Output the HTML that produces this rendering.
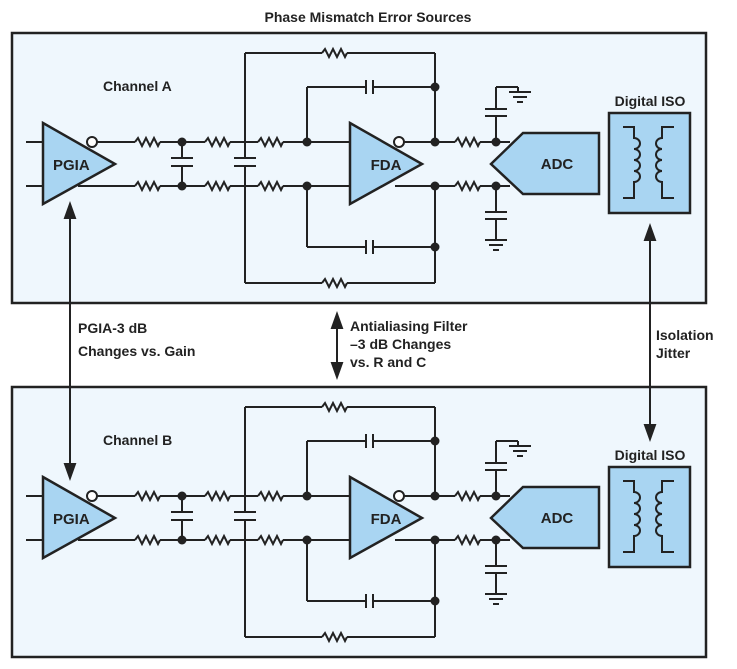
<!DOCTYPE html>
<html><head><meta charset="utf-8"><style>
html,body{margin:0;padding:0;background:#fff;}
svg{display:block;font-family:"Liberation Sans",sans-serif;font-weight:bold;}
</style></head><body>
<svg width="737" height="669" viewBox="0 0 737 669" xmlns="http://www.w3.org/2000/svg">
<defs>
<g id="res"><path d="M0,0 l3,-4 l4,8 l4,-8 l4,8 l4,-8 l4,8 l2,-4" fill="none" stroke="#222" stroke-width="2"/></g>
<g id="gnd" stroke="#222" stroke-width="2"><line x1="-11" y1="0" x2="11" y2="0"/><line x1="-7" y1="5" x2="7" y2="5"/><line x1="-3" y1="10" x2="3" y2="10"/></g>
<g id="ch" stroke="#222" stroke-width="2" fill="none">
<rect x="12" y="33" width="694" height="270" fill="#eff7fd" stroke="#222" stroke-width="2.5"/>
<line x1="26" y1="142" x2="43" y2="142"/><line x1="26" y1="186" x2="43" y2="186"/>
<line x1="97" y1="142" x2="135" y2="142"/><line x1="78" y1="186" x2="135" y2="186"/>
<use href="#res" x="135" y="142"/><use href="#res" x="135" y="186"/>
<line x1="160" y1="142" x2="205" y2="142"/><line x1="160" y1="186" x2="205" y2="186"/>
<use href="#res" x="205" y="142"/><use href="#res" x="205" y="186"/>
<line x1="230" y1="142" x2="258" y2="142"/><line x1="230" y1="186" x2="258" y2="186"/>
<use href="#res" x="258" y="142"/><use href="#res" x="258" y="186"/>
<line x1="283" y1="142" x2="350" y2="142"/><line x1="283" y1="186" x2="350" y2="186"/>
<line x1="182" y1="142" x2="182" y2="158"/><line x1="182" y1="166" x2="182" y2="186"/>
<line x1="171" y1="158" x2="193" y2="158"/><line x1="171" y1="166" x2="193" y2="166"/>
<line x1="245" y1="53" x2="245" y2="158"/><line x1="245" y1="166" x2="245" y2="283"/>
<line x1="234" y1="158" x2="256" y2="158"/><line x1="234" y1="166" x2="256" y2="166"/>
<line x1="245" y1="53" x2="322" y2="53"/><use href="#res" x="322" y="53"/><line x1="347" y1="53" x2="435" y2="53"/>
<line x1="245" y1="283" x2="322" y2="283"/><use href="#res" x="322" y="283"/><line x1="347" y1="283" x2="435" y2="283"/>
<line x1="435" y1="53" x2="435" y2="142"/><line x1="435" y1="186" x2="435" y2="283"/>
<line x1="307" y1="142" x2="307" y2="87"/><line x1="307" y1="87" x2="366" y2="87"/><line x1="366" y1="80" x2="366" y2="94"/><line x1="373" y1="80" x2="373" y2="94"/><line x1="373" y1="87" x2="435" y2="87"/>
<line x1="307" y1="186" x2="307" y2="247"/><line x1="307" y1="247" x2="366" y2="247"/><line x1="366" y1="240" x2="366" y2="254"/><line x1="373" y1="240" x2="373" y2="254"/><line x1="373" y1="247" x2="435" y2="247"/>
<line x1="404" y1="142" x2="455" y2="142"/><line x1="395" y1="186" x2="455" y2="186"/>
<use href="#res" x="455" y="142"/><use href="#res" x="455" y="186"/>
<line x1="480" y1="142" x2="510" y2="142"/><line x1="480" y1="186" x2="510" y2="186"/>
<line x1="496" y1="142" x2="496" y2="116"/><line x1="485" y1="116" x2="507" y2="116"/><line x1="485" y1="109" x2="507" y2="109"/><line x1="496" y1="109" x2="496" y2="87"/><line x1="496" y1="87" x2="518" y2="87"/><line x1="518" y1="87" x2="518" y2="92"/>
<use href="#gnd" x="520" y="92"/>
<line x1="496" y1="186" x2="496" y2="212"/><line x1="485" y1="212" x2="507" y2="212"/><line x1="485" y1="219" x2="507" y2="219"/><line x1="496" y1="219" x2="496" y2="240"/>
<use href="#gnd" x="496" y="240"/>
<path d="M43,123 L115,164 L43,204 Z" fill="#a9d5f2" stroke-width="2.5"/>
<path d="M350,123 L422,164 L350,204 Z" fill="#a9d5f2" stroke-width="2.5"/>
<circle cx="92" cy="142" r="5" fill="#fff"/><circle cx="399" cy="142" r="5" fill="#fff"/>
<path d="M491,164 L523,133 L599,133 L599,194 L523,194 Z" fill="#a9d5f2" stroke-width="2.5"/>
<g fill="#222" stroke="none">
<circle cx="182" cy="142" r="4.5"/><circle cx="182" cy="186" r="4.5"/>
<circle cx="307" cy="142" r="4.5"/><circle cx="307" cy="186" r="4.5"/>
<circle cx="435" cy="87" r="4.5"/><circle cx="435" cy="142" r="4.5"/><circle cx="435" cy="186" r="4.5"/><circle cx="435" cy="247" r="4.5"/>
<circle cx="496" cy="142" r="4.5"/><circle cx="496" cy="186" r="4.5"/>
</g>
<rect x="609" y="113" width="81" height="100" fill="#a9d5f2" stroke-width="2.5"/>
<path d="M623,127 H634 V138 a6,5.5 0 0 1 0,11 a6,5.5 0 0 1 0,11 a6,5.5 0 0 1 0,11 a6,5.5 0 0 1 0,11 V198 H623"/>
<path d="M674,127 H662 V138 a6,5.5 0 0 0 0,11 a6,5.5 0 0 0 0,11 a6,5.5 0 0 0 0,11 a6,5.5 0 0 0 0,11 V198 H674"/>
</g>
</defs>
<text x="368" y="22" text-anchor="middle" font-size="14" fill="#222">Phase Mismatch Error Sources</text>
<use href="#ch"/>
<use href="#ch" y="354"/>
<g stroke="#222" stroke-width="2" fill="#222">
<line x1="70" y1="215" x2="70" y2="466"/>
<path d="M65,218 L70,204 L75,218 Z"/><path d="M65,464 L70,478 L75,464 Z"/>
<line x1="337" y1="325" x2="337" y2="366"/>
<path d="M332,328 L337,314 L342,328 Z"/><path d="M332,363 L337,377 L342,363 Z"/>
<line x1="650" y1="238" x2="650" y2="428"/>
<path d="M645,240 L650,226 L655,240 Z"/><path d="M645,425 L650,439 L655,425 Z"/>
</g>
<g font-size="14" fill="#222">
<text x="103" y="91">Channel A</text>
<text x="103" y="445">Channel B</text>
<text x="53" y="170" font-size="15">PGIA</text>
<text x="53" y="524" font-size="15">PGIA</text>
<text x="386" y="170" font-size="15" text-anchor="middle">FDA</text>
<text x="386" y="524" font-size="15" text-anchor="middle">FDA</text>
<text x="557" y="169" font-size="15" text-anchor="middle">ADC</text>
<text x="557" y="523" font-size="15" text-anchor="middle">ADC</text>
<text x="650" y="106" text-anchor="middle">Digital ISO</text>
<text x="650" y="460" text-anchor="middle">Digital ISO</text>
<text x="78" y="333">PGIA-3 dB</text>
<text x="78" y="356">Changes vs. Gain</text>
<text x="350" y="331">Antialiasing Filter</text>
<text x="350" y="349">–3 dB Changes</text>
<text x="350" y="367">vs. R and C</text>
<text x="656" y="340">Isolation</text>
<text x="656" y="358">Jitter</text>
</g>
</svg>
</body></html>
